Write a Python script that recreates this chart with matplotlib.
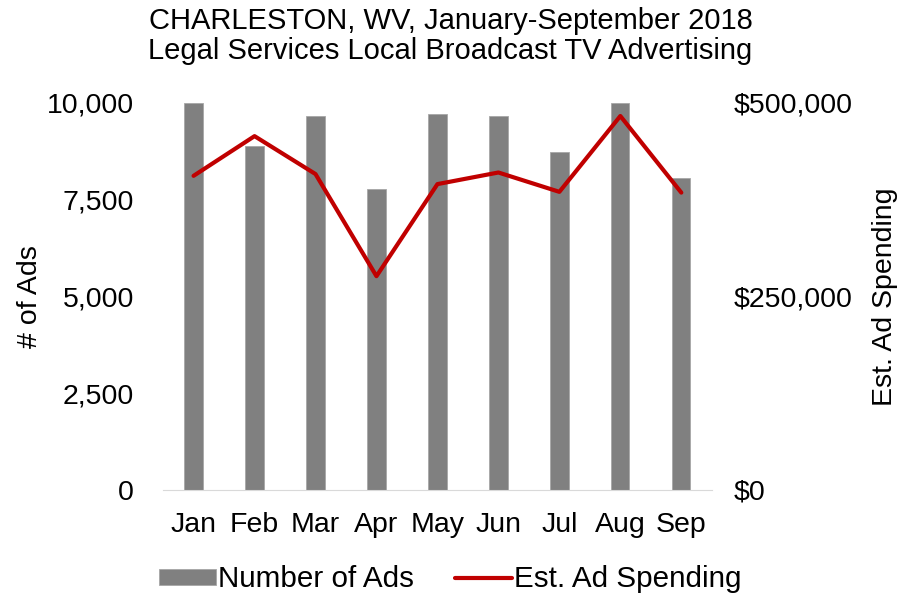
import numpy as np
import matplotlib
matplotlib.use("Agg")
import matplotlib.pyplot as plt
from matplotlib.ticker import FuncFormatter

plt.rcParams['font.family'] = ['Liberation Sans', 'DejaVu Sans']

months = ["Jan", "Feb", "Mar", "Apr", "May", "Jun", "Jul", "Aug", "Sep"]
num_ads = [9990, 8890, 9660, 7780, 9710, 9660, 8730, 9990, 8060]
spending = [405700, 457000, 408000, 276000, 395000, 410000, 385000, 483000, 384000]

bar_color = "#808080"
line_color = "#C00000"
fs = 20.5

fig = plt.figure(figsize=(9.01, 5.98), dpi=100)
ax = fig.add_axes([0.181, 0.181, 0.609, 0.647])
ax2 = ax.twinx()

x = np.arange(len(months))
bars = ax.bar(x, num_ads, width=0.3, color=bar_color, edgecolor="#A6A6A6", linewidth=0.6,
              label="Number of Ads")
line, = ax2.plot(x, spending, color=line_color, linewidth=3, solid_capstyle="round",
                 label="Est. Ad Spending")

ax.set_xlim(-0.5, len(months) - 0.5)
ax.set_ylim(0, 10000)
ax2.set_ylim(0, 500000)
ax.set_yticks([0, 2500, 5000, 7500, 10000])
ax2.set_yticks([0, 250000, 500000])
ax.yaxis.set_major_formatter(FuncFormatter(lambda v, p: f"{v:,.0f}"))
ax2.yaxis.set_major_formatter(FuncFormatter(lambda v, p: f"${v:,.0f}"))
ax.set_xticks(x)
ax.set_xticklabels(months)

for a in (ax, ax2):
    for s in a.spines.values():
        s.set_visible(False)
    a.tick_params(length=0, labelsize=fs)
ax.spines['bottom'].set_visible(True)
ax.spines['bottom'].set_color("#D9D9D9")
ax.tick_params(axis='y', pad=21)
ax.tick_params(axis='x', pad=16)
ax2.tick_params(axis='y', pad=16)

ax.set_ylabel("# of Ads", fontsize=fs, labelpad=3)
ax2.set_ylabel("Est. Ad Spending", fontsize=fs, labelpad=14)

fig.suptitle("CHARLESTON, WV, January-September 2018\nLegal Services Local Broadcast TV Advertising",
             fontsize=21, y=0.988, linespacing=1.1)

fig.legend([bars, line], ["Number of Ads", "Est. Ad Spending"], loc="lower center",
           bbox_to_anchor=(0.5, -0.022), ncol=2, frameon=False, fontsize=21.3,
           handlelength=1.9, handleheight=0.45, handletextpad=0.08, columnspacing=1.4,
           borderaxespad=0.2)

fig.savefig("out.png", dpi=100)
